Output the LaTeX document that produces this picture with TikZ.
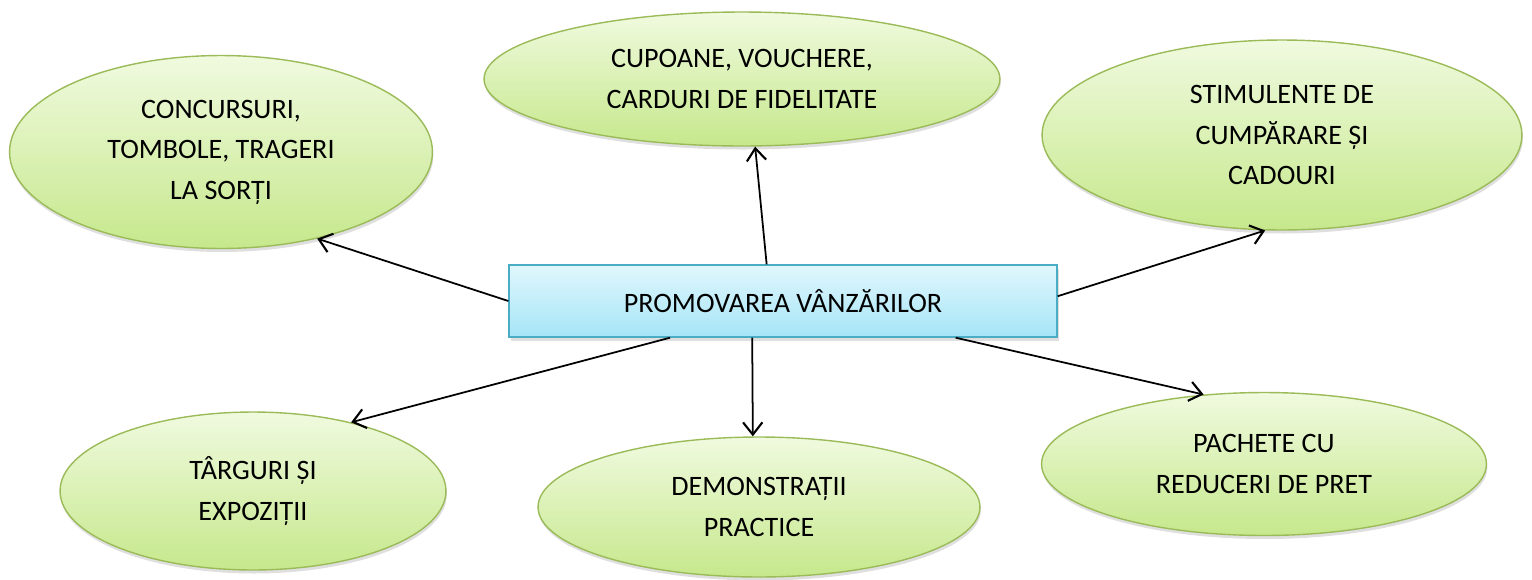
\documentclass[tikz,border=0pt]{standalone}
\usepackage{fontspec}
\setmainfont{Carlito}
\usetikzlibrary{arrows.meta,shapes.geometric,shadows}
\definecolor{frunza}{HTML}{9BBB59}
\definecolor{frunzasus}{HTML}{F0FADF}
\definecolor{frunzajos}{HTML}{C6E88C}
\definecolor{cerdeal}{HTML}{4BACC6}
\definecolor{cersus}{HTML}{E0F7FD}
\definecolor{cerjos}{HTML}{A6E5F7}
\tikzset{
  ramura/.style={ellipse, draw=frunza, line width=0.8pt, inner sep=0pt,
    top color=frunzasus, bottom color=frunzajos, align=center,
    drop shadow={shadow xshift=0.5pt, shadow yshift=-2pt, opacity=0.25}},
  centru/.style={rectangle, draw=cerdeal, line width=0.8pt, inner sep=0pt,
    top color=cersus, bottom color=cerjos, align=center,
    drop shadow={shadow xshift=1pt, shadow yshift=-2pt, opacity=0.25}},
  sageata/.style={line width=1pt, -{Straight Barb[length=7pt,width=11pt,line width=1.2pt]}}
}
\begin{document}
\begin{tikzpicture}[x=0.02cm, y=-0.02cm, font=\fontsize{16}{23}\selectfont]
	\useasboundingbox (0,0) rectangle (1532,579);
	% nodul central
	\node[centru, minimum width=10.96cm, minimum height=1.44cm] (promo) at (783,301) {PROMOVAREA VÂNZĂRILOR};
	% cele sase forme de promovare
	\node[ramura, minimum width=8.46cm, minimum height=3.86cm] (concurs) at (221,152) {CONCURSURI,\\TOMBOLE, TRAGERI\\LA SORȚI};
	\node[ramura, minimum width=10.32cm, minimum height=2.68cm] (cupoane) at (742,79) {CUPOANE, VOUCHERE,\\CARDURI DE FIDELITATE};
	\node[ramura, minimum width=9.6cm, minimum height=3.8cm] (stimul) at (1282,135) {STIMULENTE DE\\CUMPĂRARE ȘI\\CADOURI};
	\node[ramura, minimum width=7.72cm, minimum height=3.16cm] (targuri) at (253,491) {TÂRGURI ȘI\\EXPOZIȚII};
	\node[ramura, minimum width=8.84cm, minimum height=2.8cm] (demo) at (759,507) {DEMONSTRAȚII\\PRACTICE};
	\node[ramura, minimum width=8.9cm, minimum height=2.86cm] (pachete) at (1264,464) {PACHETE CU\\REDUCERI DE PRET};
	% sagetile
	\draw[sageata] (promo.west) -- (concurs.-42.5);
	\draw[sageata] (promo.114) -- (cupoane.-79.7);
	\draw[sageata] (promo.1.5) -- (stimul.260.8);
	\draw[sageata] (promo.198) -- (targuri.35.3);
	\draw[sageata] (promo.230.2) -- (demo.95.1);
	\draw[sageata] (promo.-12.5) -- (pachete.131);
\end{tikzpicture}
\end{document}
